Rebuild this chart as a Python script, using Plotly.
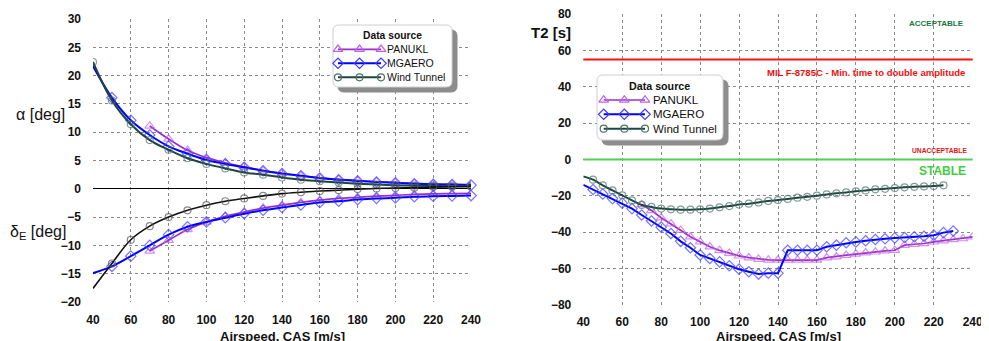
import plotly.graph_objects as go

# ---------------- data: left chart (trim) ----------------
mg_speed = [38, 50, 60, 70, 80, 90, 100, 110, 120, 130, 140, 150, 160, 170, 180, 190, 200, 210, 220, 230, 240]
mg_alpha = [22.9, 16.1, 12.1, 9.5, 7.5, 6.2, 5.1, 4.4, 3.8, 3.2, 2.7, 2.3, 1.9, 1.6, 1.4, 1.2, 1.05, 0.9, 0.8, 0.75, 0.65]
mg_delta = [-15.1, -13.7, -11.9, -10.0, -8.1, -6.7, -5.85, -5.1, -4.4, -3.8, -3.3, -2.85, -2.4, -2.2, -1.9, -1.7, -1.6, -1.4, -1.3, -1.25, -1.2]

pan_speed = [70, 80, 90, 100, 110, 120, 130, 140, 150, 160, 170, 180, 190, 200, 210, 220, 230, 240]
pan_alpha = [11.1, 8.8, 6.8, 5.5, 4.6, 3.9, 3.2, 2.7, 2.3, 1.95, 1.65, 1.45, 1.25, 1.1, 0.95, 0.85, 0.78, 0.7]
pan_delta = [-11.0, -9.1, -7.2, -5.85, -4.85, -4.1, -3.4, -2.9, -2.4, -2.0, -1.7, -1.5, -1.3, -1.15, -1.0, -0.9, -0.85, -0.8]

wt_speed = [40, 50, 60, 70, 80, 90, 100, 110, 120, 130, 140, 150, 160, 170, 180, 190, 200, 210, 220, 230, 240]
wt_alpha = [22.4, 15.6, 11.4, 8.6, 6.9, 5.4, 4.4, 3.6, 2.9, 2.5, 2.0, 1.6, 1.35, 1.1, 0.9, 0.75, 0.6, 0.55, 0.5, 0.45, 0.45]
wt_delta = [-17.6, -13.2, -9.0, -6.6, -5.0, -3.8, -2.9, -2.2, -1.7, -1.25, -0.85, -0.6, -0.4, -0.25, -0.05, 0.05, 0.15, 0.2, 0.3, 0.35, 0.4]

# ---------------- data: right chart (T2) ----------------
wt_t2_speed = list(range(40, 226, 5))
wt_t2 = [-9.3, -11.1, -14.2, -17.0, -19.7, -22.5, -25.0, -26.1, -27.0, -27.4, -27.6, -27.6, -27.4, -27.0,
         -26.3, -25.6, -24.8, -24.3, -23.6, -22.8, -22.3, -21.7, -21.0, -20.5, -19.9, -19.2, -18.6, -18.1,
         -17.5, -17.0, -16.4, -16.1, -15.7, -15.3, -15.0, -14.8, -14.6, -14.2]
mg_t2_speed = list(range(40, 231, 5))
mg_t2 = [-13.9, -16.5, -19.0, -21.5, -24.0, -27.0, -30.5, -33.8, -37.2, -40.7, -45.0, -48.5, -52.5, -54.4,
         -56.3, -58.4, -60.3, -61.7, -63.0, -62.5, -62.5, -49.9, -49.9, -49.9, -49.9, -48.0, -47.1, -45.8,
         -45.3, -44.7, -44.0, -43.6, -43.1, -42.9, -42.5, -42.2, -41.6, -40.2, -39.3]
pan_t2_speed = list(range(70, 241, 5))
pan_t2 = [-24.7, -28.0, -32.0, -35.3, -38.9, -42.5, -45.3, -48.0, -50.0, -51.5, -53.0, -54.0, -54.8, -55.2,
          -55.3, -55.3, -55.3, -55.3, -55.3, -54.0, -53.5, -52.6, -52.0, -51.3, -50.8, -50.2, -49.9, -47.1,
          -46.6, -46.2, -45.3, -44.7, -44.0, -43.5, -42.5]

MIL_LIMIT = 55
STABLE_LIMIT = 0

x_ticks = list(range(40, 241, 20))
LEGEND_TITLE = "Data source"
LEGEND_NAMES = ["PANUKL", "MGAERO", "Wind Tunnel"]

# ---------------- styles ----------------
FONT = "Arial, Liberation Sans, sans-serif"
W, H = 989, 341
OFF = 8  # page body margin: figure is drawn 8 px in from the window's top-left corner
STYLE = {
    "PANUKL": dict(lc="#9a2fc8", mc="#c060e8", sym="triangle-up-open", ms=8.5, lw=1.7),
    "MGAERO": dict(lc="#0000ff", mc="#3a3aff", sym="diamond-open", ms=8, lw=2),
    "Wind Tunnel": dict(lc="#1c4640", mc="#50706a", sym="circle-open", ms=7, lw=2),
}
DELTA_WT = dict(lc="#111111", mc="#555555", sym="circle-open", ms=7, lw=1.6)


def px(x):
    return (x - OFF) / W


def py(y):
    return 1 - (y - OFF) / H


fig = go.Figure()


def add(x, y, st, xa, ya, shape="spline", clip=True, skip_first=False):
    sizes = [0 if (skip_first and i == 0) else st["ms"] for i in range(len(x))]
    fig.add_trace(go.Scatter(
        x=x, y=y, mode="lines+markers", showlegend=False, hoverinfo="x+y",
        line=dict(color=st["lc"], width=st["lw"], shape=shape),
        marker=dict(symbol=st["sym"], size=sizes, color=st["mc"], line=dict(color=st["mc"], width=1.2)),
        xaxis=xa, yaxis=ya, cliponaxis=clip))


# left chart
add(pan_speed, pan_alpha, STYLE["PANUKL"], "x", "y")
add(mg_speed, mg_alpha, STYLE["MGAERO"], "x", "y", clip=False)
add(wt_speed, wt_alpha, STYLE["Wind Tunnel"], "x", "y")
add(pan_speed, pan_delta, STYLE["PANUKL"], "x", "y")
add(mg_speed, mg_delta, STYLE["MGAERO"], "x", "y", clip=False)
add(wt_speed, wt_delta, DELTA_WT, "x", "y", skip_first=True)

# right chart
add(pan_t2_speed, pan_t2, STYLE["PANUKL"], "x2", "y2", shape="linear")
add(mg_t2_speed, mg_t2, STYLE["MGAERO"], "x2", "y2", shape="linear", skip_first=True)
add(wt_t2_speed, wt_t2, STYLE["Wind Tunnel"], "x2", "y2", skip_first=True)

grid = dict(showgrid=True, gridcolor="#8a8a8a", griddash="dot", gridwidth=1, showline=False,
            tickfont=dict(family=FONT, size=12, color="#111", weight="bold"), ticks="",
            ticklabeloverflow="allow")
hidden = dict(visible=False, showgrid=False, zeroline=False, fixedrange=True)

fig.update_layout(
    width=W, height=H, margin=dict(l=0, r=0, t=0, b=0, autoexpand=False),
    paper_bgcolor="white", plot_bgcolor="rgba(0,0,0,0)", font=dict(family=FONT), showlegend=False,
    xaxis=dict(domain=[px(93), px(471)], range=[40, 240], tickvals=x_ticks, zeroline=False,
               ticklabelstandoff=9, **grid),
    yaxis=dict(domain=[py(302), py(19)], range=[-20, 30], dtick=5, zeroline=True, zerolinecolor="#000",
               zerolinewidth=1, ticklabelstandoff=11, **grid),
    xaxis2=dict(domain=[px(583.3), px(972.7)], range=[40, 240], tickvals=x_ticks, zeroline=False,
                anchor="y2", ticklabelstandoff=8, **grid),
    yaxis2=dict(domain=[py(305), py(14)], range=[-80, 80], dtick=20, zeroline=False, anchor="x2",
                ticklabelstandoff=11, **grid),
    # full-figure pixel axes used only to lay out the two legend panels
    xaxis3=dict(domain=[0, 1], range=[OFF, W + OFF], anchor="y3", **hidden),
    yaxis3=dict(domain=[0, 1], range=[H + OFF, OFF], anchor="x3", **hidden),
)

# reference lines on right chart
fig.add_shape(type="line", xref="x2 domain", yref="y2", x0=0, x1=1, y0=MIL_LIMIT, y1=MIL_LIMIT,
              line=dict(color="#ff1010", width=2))
fig.add_shape(type="line", xref="x2 domain", yref="y2", x0=0, x1=1, y0=STABLE_LIMIT, y1=STABLE_LIMIT,
              line=dict(color="#55cc55", width=2))


# legend panels (shadow + rounded white box) drawn on the pixel axes
def rbox(x0, y0, x1, y1, r, fill, line):
    path = (f"M {x0 + r},{y0} L {x1 - r},{y0} Q {x1},{y0} {x1},{y0 + r} "
            f"L {x1},{y1 - r} Q {x1},{y1} {x1 - r},{y1} "
            f"L {x0 + r},{y1} Q {x0},{y1} {x0},{y1 - r} "
            f"L {x0},{y0 + r} Q {x0},{y0} {x0 + r},{y0} Z")
    fig.add_shape(type="path", path=path, xref="x3", yref="y3", fillcolor=fill,
                  line=dict(color=line, width=1), layer="below")


def ann(text, x, y, size, color="#111", bold=False, xanchor="center", ref="paper"):
    if ref == "paper":
        xx, yy, xr, yr = px(x), py(y), "paper", "paper"
    else:
        xx, yy, xr, yr = x, y, "x3", "y3"
    fig.add_annotation(text=text, x=xx, y=yy, xref=xr, yref=yr, showarrow=False,
                       xanchor=xanchor, yanchor="middle",
                       font=dict(family=FONT, size=size, color=color, weight="bold" if bold else "normal"))


def legend_panel(box, title_xy, rows_y, sample_x, text_x, fsize, tsize):
    x0, y0, x1, y1 = box
    rbox(x0 + 5, y0 + 5, x1 + 5, y1 + 5, 6, "#8c8c8c", "#8c8c8c")
    rbox(x0, y0, x1, y1, 6, "white", "#d0d0d0")
    ann(LEGEND_TITLE, title_xy[0], title_xy[1], tsize, bold=True, ref="x3")
    for name, ry in zip(LEGEND_NAMES, rows_y):
        st = STYLE[name]
        fig.add_trace(go.Scatter(
            x=sample_x, y=[ry] * len(sample_x), mode="lines+markers", showlegend=False, hoverinfo="skip",
            line=dict(color=st["lc"], width=st["lw"]),
            marker=dict(symbol=st["sym"], size=st["ms"], color=st["mc"], line=dict(color=st["mc"], width=1.2)),
            xaxis="x3", yaxis="y3", cliponaxis=False))
        ann(name, text_x, ry, fsize, xanchor="left", ref="x3")


legend_panel((333, 25, 452, 87), (392, 35.5), [49.3, 63.3, 77.3], [338, 359.5, 381], 385, 10.5, 10.3)
legend_panel((597, 75, 723, 140), (659, 86), [100, 114.3, 128.7], [603.7, 624.3, 645], 650.5, 11.5, 10.7)

# axis titles and zone labels
ann("α [deg]", 40, 115, 16)
ann("δ<sub>E</sub> [deg]", 38, 232, 16)
ann("T2 [s]", 551, 32, 15, bold=True)
ann("Airspeed, CAS [m/s]", 282, 336, 13, bold=True)
ann("Airspeed, CAS [m/s]", 778, 336, 13, bold=True)
ann("ACCEPTABLE", 966, 24, 8, color="#17773c", bold=True, xanchor="right")
ann("MIL F-8785C - Min. time to double amplitude", 967, 72, 9.5, color="#ee1111", bold=True, xanchor="right")
ann("UNACCEPTABLE", 969, 150, 6.7, color="#ee1111", bold=True, xanchor="right")
ann("STABLE", 968, 171, 12, color="#44cc44", bold=True, xanchor="right")

fig.write_html("out.html")
